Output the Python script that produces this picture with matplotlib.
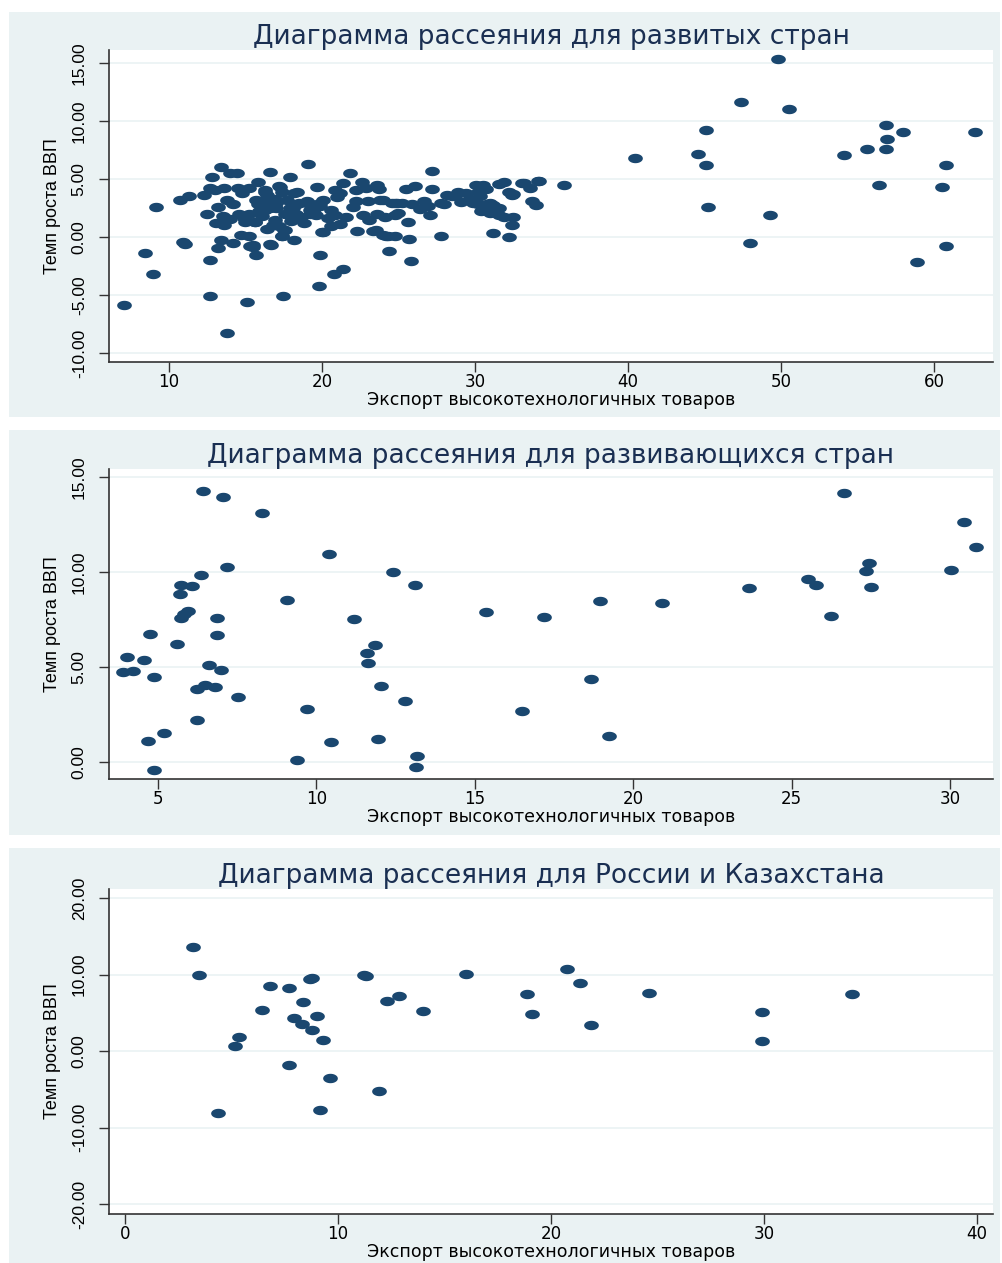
import numpy as np
import matplotlib
matplotlib.use('Agg')
import matplotlib.pyplot as plt
from matplotlib.patches import Rectangle

# --- data ---
# developed countries
dev_x = [7.06, 8.43, 8.93, 9.15, 10.72, 11.3, 10.9, 11.05, 12.3, 12.5, 12.7, 12.7, 12.8, 12.7,
         13.4, 13.6, 13.2, 13.8, 13.4, 13.2, 13.1, 13.6, 13.5, 13.8, 14.0, 14.45, 14.2, 14.5,
         14.8, 14.2, 14.6, 14.7, 15.2, 15.2, 14.95, 15.2, 15.5, 15.5, 15.6, 15.1, 15.7, 15.8,
         15.8, 16.3, 16.4, 16.6, 16.4, 16.6, 16.3, 16.4, 16.7, 16.9, 17.0, 17.25, 17.2, 17.4,
         17.4, 17.43, 17.6, 17.6, 17.9, 17.9, 18.0, 18.2, 18.2, 18.3, 18.4, 19.1, 19.0, 19.2,
         19.3, 19.65, 19.6, 19.85, 19.9, 19.8, 20.1, 20.1, 17.2, 21.8, 21.4, 22.6, 23.6, 23.7,
         20.85, 21.2, 22.2, 22.9, 18.35, 16.27, 15.7, 16.6, 17.7, 19.0, 19.9, 18.1, 19.2, 20.4,
         20.85, 21.6, 22.25, 24.0, 24.9, 23.6, 23.1, 20.6, 21.2, 22.3, 20.0, 23.35, 24.2, 24.3,
         15.6, 16.8, 17.5, 17.4, 16.6, 15.3, 24.4, 21.35, 20.8, 27.2, 25.5, 26.1, 27.2, 28.9,
         28.5, 30.1, 31.6, 30.75, 30.2, 32.2, 32.4, 33.05, 33.6, 34.1, 33.7, 34.0, 24.8, 25.2,
         25.9, 26.7, 26.95, 27.8, 27.05, 25.6, 24.8, 24.8, 25.7, 27.8, 25.8, 29.7, 29.9, 30.2,
         30.4, 30.6, 31.0, 31.2, 31.6, 31.6, 31.2, 32.5, 32.45, 32.2, 35.8, 34.2, 33.2, 32.5,
         23.8, 24.6, 24.1, 23.5, 24.0, 28.0, 28.7, 29.4, 30.3, 30.5, 30.8, 31.0, 31.9, 31.9,
         14.0, 13.0, 15.9, 16.1, 17.0, 18.6, 18.8, 19.5, 20.6, 21.0, 22.0, 22.7, 23.0, 25.0,
         26.4, 28.2, 29.1, 16.9, 18.5, 14.9,
         40.45, 44.6, 45.1, 45.1, 45.2, 47.4, 48.0, 49.3, 49.8, 50.5, 54.1, 55.6, 56.4, 56.85,
         56.95, 56.85, 58.0, 58.9, 60.5, 60.8, 60.8, 62.7]
dev_y = [-5.86, -1.38, -3.2, 2.6, 3.2, 3.5, -0.45, -0.6, 3.6, 2.0, -2.0, -5.1, 5.2, 4.2,
         6.06, 4.2, 2.6, 3.2, -0.3, -1.0, 1.2, 1.0, 1.8, -8.25, 5.5, 5.5, -0.55, 4.2,
         3.8, 2.8, 2.0, 0.15, 4.2, 2.0, 1.3, 0.05, -0.7, -0.9, 1.3, -5.63, -1.55, 4.77,
         2.8, 2.3, 0.65, 2.5, 3.6, 5.6, 4.0, 3.1, -0.7, 1.45, 2.5, 4.3, 0.95, 0.1,
         3.9, -5.06, 0.6, 2.0, 5.2, 2.5, 1.4, -0.25, 3.75, 2.0, 2.8, 6.3, 2.9, 2.3,
         2.8, 4.3, 1.9, 2.7, -1.55, -4.2, 0.45, 3.2, 4.4, 5.5, 4.6, 4.77, 4.5, 4.1,
         4.05, 3.8, 4.05, 4.2, 3.9, 3.9, 3.2, 3.0, 3.2, 3.05, 2.9, 2.5, 2.0, 1.6,
         1.9, 1.75, 3.05, 3.2, 2.9, 2.0, 1.45, 0.9, 1.1, 0.5, 0.45, 0.5, 0.1, 0.1,
         1.3, 1.0, 0.6, 0.05, -0.6, -0.8, -1.2, -2.75, -3.2, 5.7, 4.1, 4.4, 4.1, 3.9,
         3.55, 4.5, 4.55, 4.1, 3.9, 3.9, 3.6, 4.6, 4.2, 4.85, 3.1, 2.75, 2.9, 2.95,
         2.8, 3.05, 2.7, 2.9, 1.9, 1.25, 1.9, 0.1, -0.2, 0.05, -2.07, 3.3, 2.9, 2.8,
         2.2, 2.6, 2.9, 2.75, 2.5, 1.9, 0.37, 1.75, 1.0, -0.03, 4.5, 4.85, 4.6, 3.7,
         3.2, 2.9, 1.75, 0.6, 0.15, 2.8, 3.5, 3.8, 3.5, 4.5, 2.8, 2.1, 1.75, 4.7,
         1.5, 4.0, 2.2, 1.8, 2.9, 1.7, 1.2, 2.4, 2.3, 3.4, 2.6, 1.9, 3.1, 2.1,
         2.4, 3.6, 3.0, 3.3, 2.9, 1.6,
         6.78, 7.16, 9.2, 6.15, 2.56, 11.66, -0.55, 1.9, 15.3, 11.03, 7.07, 7.6, 4.5, 9.65,
         8.4, 7.6, 9.0, -2.18, 4.34, 6.15, -0.77, 9.0]

# developing countries
dvg_x = [6.41, 7.06, 8.29, 10.41, 7.17, 12.41, 6.36, 5.73, 6.06, 13.12, 5.69, 9.06, 5.96, 5.81,
         5.73, 6.87, 11.17, 15.36, 4.75, 6.87, 5.59, 11.85, 11.59, 4.03, 4.57, 11.64, 6.61, 3.9,
         4.22, 6.98, 4.87, 6.22, 6.48, 6.8, 12.04, 7.52, 12.8, 9.7, 6.22, 5.19, 4.67, 10.46,
         11.94, 9.4, 13.17, 13.15, 4.87,
         26.66, 30.46, 30.82, 27.46, 27.36, 30.04, 25.53, 25.78, 27.5, 23.67, 18.94, 20.9, 17.17,
         26.24, 18.67, 16.49, 19.24]
dvg_y = [14.25, 13.96, 13.09, 10.95, 10.28, 10.02, 9.83, 9.32, 9.26, 9.32, 8.84, 8.53, 7.95, 7.8,
         7.6, 7.6, 7.54, 7.88, 6.72, 6.67, 6.21, 6.16, 5.75, 5.51, 5.37, 5.23, 5.12, 4.72,
         4.81, 4.84, 4.49, 3.86, 4.05, 3.93, 4.02, 3.4, 3.23, 2.81, 2.21, 1.54, 1.12, 1.07,
         1.23, 0.1, 0.33, -0.28, -0.42,
         14.14, 12.65, 11.33, 10.49, 10.07, 10.1, 9.63, 9.32, 9.23, 9.14, 8.47, 8.35, 7.65,
         7.68, 4.35, 2.7, 1.37]

# Russia and Kazakhstan
rk_x = [3.18, 3.49, 6.81, 7.71, 8.7, 8.8, 8.37, 6.45, 9.0, 7.93, 8.29, 8.76, 5.37, 5.16,
        9.28, 7.71, 9.62, 4.38, 9.15, 11.24, 11.3, 12.29, 12.86, 13.97, 11.94, 16.0,
        20.77, 21.36, 18.86, 24.62, 34.15, 19.09, 21.86, 29.92, 29.92]
rk_y = [13.55, 9.93, 8.58, 8.23, 9.4, 9.6, 6.4, 5.36, 4.57, 4.36, 3.52, 2.75, 1.83, 0.61,
        1.44, -1.83, -3.49, -8.1, -7.71, 9.89, 9.85, 6.54, 7.23, 5.23, -5.23, 10.07,
        10.76, 8.93, 7.41, 7.62, 7.41, 4.84, 3.4, 5.1, 1.35]

titles = ['Диаграмма рассеяния для развитых стран',
          'Диаграмма рассеяния для развивающихся стран',
          'Диаграмма рассеяния для России и Казахстана']
xlabel = 'Экспорт высокотехнологичных товаров'
ylabel = 'Темп роста ВВП'

xticks = [[10, 20, 30, 40, 50, 60], [5, 10, 15, 20, 25, 30], [0, 10, 20, 30, 40]]
yticks = [[-10, -5, 0, 5, 10, 15], [0, 5, 10, 15], [-20, -10, 0, 10, 20]]
xlims = [(6.08, 63.86), (3.45, 31.36), (-0.75, 40.75)]
ylims = [(-10.78, 16.1), (-0.9, 15.42), (-21.3, 21.2)]

# --- style ---
bg = '#eaf2f3'
navy = '#1a476f'
title_col = '#1a2f52'

# wide ellipse marker (the picture is stretched horizontally)
t = np.linspace(0, 2 * np.pi, 40)
ell = np.column_stack([np.cos(t), 0.64 * np.sin(t)])

fig = plt.figure(figsize=(10.03, 12.63), dpi=100)
W, H = 1003, 1263

# grey panel backgrounds (pixel boxes)
bg_boxes = [(9, 12, 1000, 417), (9, 430, 1000, 835), (9, 848, 1000, 1263)]
for x0, y0, x1, y1 in bg_boxes:
    fig.patches.append(Rectangle((x0 / W, 1 - y1 / H), (x1 - x0) / W, (y1 - y0) / H,
                                 transform=fig.transFigure, facecolor=bg,
                                 edgecolor='none', zorder=-5))

ax_boxes = [(109, 50, 993, 362), (109, 469, 993, 779), (109, 889, 993, 1214)]
data = [(dev_x, dev_y), (dvg_x, dvg_y), (rk_x, rk_y)]

for i, (x0, y0, x1, y1) in enumerate(ax_boxes):
    ax = fig.add_axes([x0 / W, 1 - y1 / H, (x1 - x0) / W, (y1 - y0) / H])
    ax.set_facecolor('white')
    xs, ys = data[i]
    ax.scatter(xs, ys, marker=ell, s=112, color=navy, linewidths=0, zorder=3)
    ax.set_xlim(*xlims[i])
    ax.set_ylim(*ylims[i])
    ax.set_xticks(xticks[i])
    ax.set_yticks(yticks[i])
    ax.set_yticklabels(['%.2f' % v for v in yticks[i]], rotation=90, va='center',
                       family='Liberation Sans', fontsize=12.5)
    ax.set_xticklabels([str(v) for v in xticks[i]], fontsize=12)
    ax.grid(axis='y', color=bg, lw=1.2, zorder=0)
    for s in ['top', 'right']:
        ax.spines[s].set_visible(False)
    for s in ['left', 'bottom']:
        ax.spines[s].set_color('#333333')
        ax.spines[s].set_linewidth(1.2)
    ax.tick_params(length=7, width=1, color='#333333')
    ax.tick_params(axis='x', pad=1)
    ax.tick_params(axis='y', pad=9)
    ax.set_title(titles[i], fontsize=19, color=title_col, pad=1)
    ax.set_xlabel(xlabel, fontsize=12.5, labelpad=0)
    ax.set_ylabel(ylabel, family='Liberation Sans', fontsize=13, labelpad=8)

plt.savefig('out.png', dpi=100)
plt.close()
